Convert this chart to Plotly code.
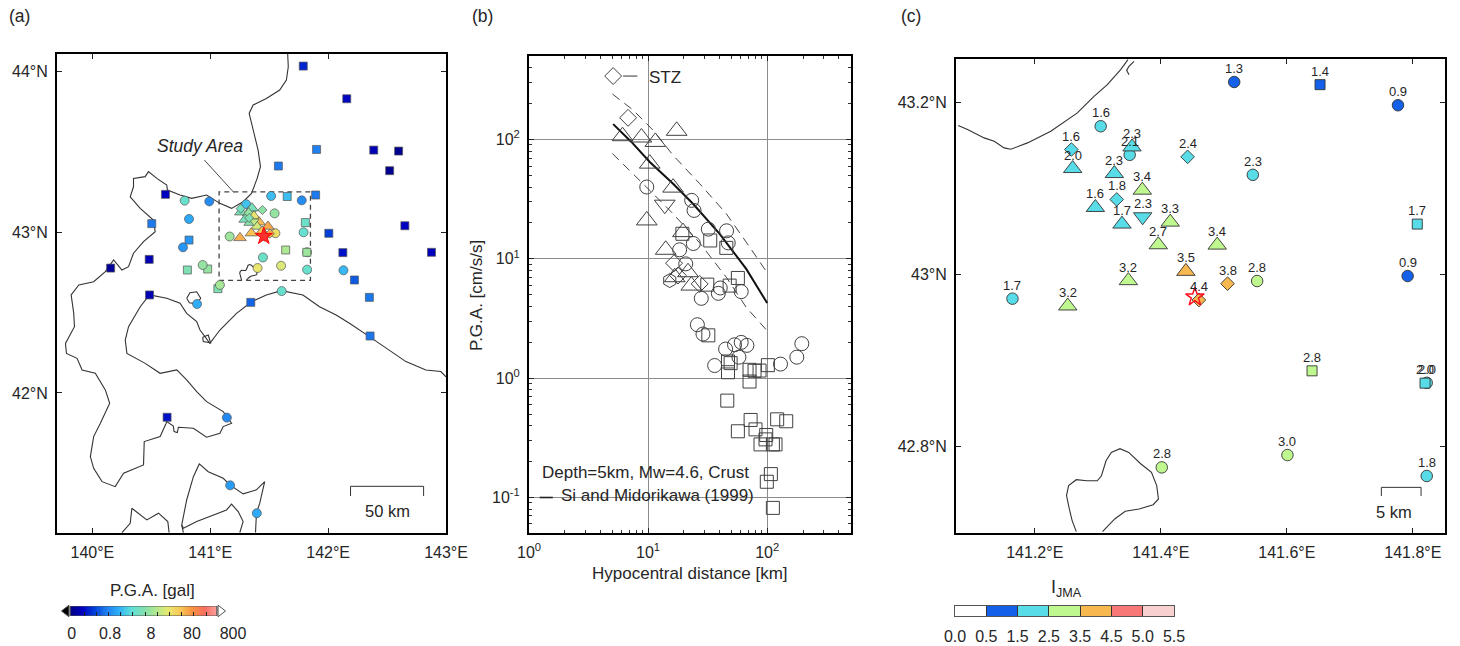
import numpy as np
import plotly.graph_objects as go

W, H = 1460, 646
FONT = "Liberation Sans"
INK = "#262626"

# ---------- Coastlines (lon, lat) ----------
coast_lon = [141.657,141.662,141.646,141.589,141.476,141.364,141.330,141.364,141.406,141.426,141.398,141.350,141.279,141.181,141.082,140.969,140.843,140.744,140.637,140.631,140.547,140.476,140.448,140.349,140.349,140.321,140.406,140.518,140.533,140.434,140.349,140.307,140.251,140.180,140.110,140.011,139.885,139.820,139.842,139.848,139.772,139.780,139.870,139.913,140.025,140.110,140.147,140.068,140.011,139.983,140.011,140.082,140.194,140.265,140.434,140.440,140.575,140.626,140.631,140.687,140.693,140.721,140.730,140.857,140.969,141.082,141.110,141.181,141.110,140.969,140.885,140.800,140.716,140.575,140.448,140.293,140.279,140.307,140.406,140.485,140.631,140.744,140.800,140.885,140.913,140.997,141.082,141.223,141.350,141.476,141.603,141.786,141.927,142.068,142.181,142.350,142.519,142.660,142.829,142.956,143.0]
coast_lat = [44.106,44.027,43.944,43.882,43.830,43.789,43.737,43.633,43.509,43.406,43.333,43.240,43.188,43.147,43.178,43.230,43.209,43.230,43.261,43.292,43.333,43.375,43.344,43.333,43.281,43.219,43.147,43.074,43.002,42.940,42.868,42.785,42.764,42.826,42.754,42.691,42.671,42.609,42.495,42.412,42.308,42.246,42.215,42.143,42.122,42.019,41.936,41.812,41.729,41.605,41.532,41.449,41.418,41.501,41.553,41.698,41.729,41.812,41.822,41.795,41.760,41.754,41.787,41.781,41.725,41.750,41.791,41.812,41.884,41.946,42.008,42.081,42.143,42.122,42.184,42.246,42.329,42.412,42.536,42.609,42.588,42.557,42.495,42.443,42.391,42.308,42.391,42.495,42.567,42.609,42.636,42.609,42.536,42.484,42.433,42.350,42.267,42.195,42.143,42.133,42.10]
muroran_lon = [140.936,140.983,141.003,140.941,140.936]
muroran_lat = [42.346,42.360,42.312,42.319,42.346]
toya_lon = [140.800,140.828,140.885,140.919,140.885,140.823,140.800]
toya_lat = [42.588,42.623,42.629,42.588,42.553,42.561,42.588]
pen1_lon = [140.772,140.758,140.800,140.857,140.907,140.983,141.110,141.167,141.279,141.392,141.462,141.420,141.392,141.384]
pen1_lat = [41.133,41.180,41.335,41.480,41.559,41.511,41.470,41.429,41.373,41.398,41.449,41.315,41.253,41.133]
pen2_lon = [140.758,140.772,140.885,141.026,141.138,141.181,141.237,141.279,141.251]
pen2_lat = [41.180,41.160,41.201,41.242,41.273,41.309,41.263,41.201,41.133]
pen3_lon = [140.251,140.321,140.335,140.462,140.561,140.640,140.651]
pen3_lat = [41.133,41.190,41.284,41.211,41.253,41.201,41.133]
lake_lon = [141.2659,141.2593,141.2548,141.2504,141.2537,141.2659,141.2826,141.2992,141.3058,141.3131,141.3214,141.3352,141.3491,141.3685,141.3852,141.3935,141.3963,141.3879,141.3657,141.3436,141.3269,141.3075]
lake_lat = [42.7016,42.7144,42.7279,42.7434,42.7550,42.7619,42.7607,42.7607,42.7665,42.7839,42.7936,42.7979,42.7936,42.7801,42.7704,42.7550,42.7395,42.7329,42.7279,42.7252,42.7163,42.7016]
c_coast_lon = [141.0785,141.0933,141.1197,141.1356,141.1514,141.162,141.1884,141.2254,141.2676,141.294,141.3152,141.3363,141.3479]
c_coast_lat = [43.1731,43.1684,43.1588,43.1549,43.1472,43.1456,43.1530,43.1665,43.1878,43.2071,43.2206,43.2380,43.2496]
c_hook_lon = [141.3575,141.3495,141.3458,141.3495]
c_hook_lat = [43.2477,43.2419,43.2372,43.2322]

# ---------- Panel (a) stations, values in gal ----------
a_sq_lon = [141.789,142.158,141.902,142.387,142.598,142.522,141.578,140.620,141.894,142.651,140.504,142.006,142.125,142.877,140.482,140.155,142.223,140.485,142.350,141.344,142.356,140.634,140.820,140.806,140.978,141.065]
a_sq_lat = [44.031,43.828,43.513,43.509,43.503,43.381,43.410,43.234,43.230,43.039,43.052,42.992,42.872,42.874,42.830,42.776,42.702,42.609,42.594,42.563,42.354,41.849,42.950,42.764,42.770,42.648]
a_sq_pga = [0.25,0.18,0.67,0.15,0.10,0.10,0.62,0.17,0.62,0.17,0.62,0.33,0.20,0.16,0.15,0.11,0.45,0.15,0.60,0.50,0.60,0.20,0.9,5,7,5]
a_ci_lon = [140.783,140.992,140.820,140.769,140.936,141.082,140.888,141.606,141.141,141.169,141.395,142.130,141.447]
a_ci_lat = [43.195,43.190,43.081,42.905,42.795,42.671,42.553,42.633,41.847,41.426,41.253,42.762,42.842]
a_ci_pga = [3.2,0.8,1.2,0.9,7,9,1.3,3.2,0.75,1.0,1.2,1.5,3.5]

# ---------- Panel (c) stations: JMA intensity and PGA (gal) shown in panel (a) ----------
ci_lon = [141.5165,141.7764,141.3046,141.3506,141.5460,141.7917,141.5529,141.1646,141.8220,141.6010,141.4015,141.8220]
ci_lat = [43.2237,43.1967,43.1723,43.1391,43.1159,42.9984,42.9926,42.9721,42.8744,42.7905,42.7762,42.7662]
ci_jma = [1.3,0.9,1.6,2.1,2.3,0.9,2.8,1.7,2.0,3.0,2.8,1.8]
ci_pga = [1.6,0.8,1.7,6,7,3,25,8,8,18,22,3.2]
sq_lon = [141.6527,141.8070,141.6400,141.8193]
sq_lat = [43.2206,43.0587,42.8883,42.8740]
sq_jma = [1.4,1.7,2.8,2.0]
sq_pga = [1.6,3.5,10,8]
tr_lon = [141.3543,141.2602,141.3263,141.3707,141.2962,141.4150,141.3384,141.3960,141.4895,141.4398,141.3485,141.2523]
tr_lat = [43.1483,43.1232,43.1174,43.0981,43.0780,43.0610,43.0587,43.0347,43.0343,43.0038,42.9930,42.9636]
tr_jma = [2.3,2.0,2.3,3.4,1.6,3.3,1.7,2.7,3.4,3.5,3.2,3.2]
tr_pga = [4.5,5,7,22,4.5,45,6,16,60,42,45,55]
td_lon = [141.3712]
td_lat = [43.0672]
td_jma = [2.3]
td_pga = [12]
di_lon = [141.2581,141.4425,141.3300,141.5059,141.4605]
di_lat = [43.1453,43.1368,43.0873,42.9895,42.9706]
di_jma = [1.6,2.4,1.8,3.8,4.4]
di_pga = [4,6.5,5,55,70]
star_lon = [141.4541]
star_lat = [42.9741]

# ---------- Panel (b): log10 distance, log10 PGA ----------
b_tr_x = [.785,.944,1.061,1.240,1.014,1.210,.989,1.293,1.148,1.335,1.224,1.363]
b_tr_y = [2.028,2.017,1.980,2.073,1.798,1.597,1.322,1.224,1.076,.888,.846,.776]
b_td_x = [1.140]
b_td_y = [1.454]
b_ci_x = [.989,1.366,1.386,1.506,1.659,1.673,1.380,1.265,1.316,1.447,1.590,1.606,1.782,1.414,1.461,1.651,1.726,1.782,1.830,1.763,1.559,2.112,2.249,2.291]
b_ci_y = [1.602,1.490,1.406,1.249,1.235,1.134,1.129,1.076,.958,.669,.711,.756,.725,.448,.370,.244,.280,.300,.275,.176,.106,.118,.176,.289]
b_sq_x = [1.288,1.522,1.657,1.754,1.685,1.497,1.506,1.671,1.693,1.671,1.852,1.894,1.936,1.852,2.006,1.665,1.861,2.084,2.160,1.754,1.902,1.992,1.986,1.944,2.048,2.070,2.031,1.997,2.048]
b_sq_y = [1.210,1.154,1.092,.840,.776,.784,.359,.140,.126,.050,.070,.062,.064,-.028,.109,-.188,-.350,-.345,-.361,-.445,-.429,-.476,-.513,-.555,-.555,-.555,-.804,-.868,-1.087]
b_di_x = [.7066,.832,1.218,1.251,1.433]
b_di_y = [2.532,2.182,.964,.860,.790]
b_he_x = [1.182]
b_he_y = [.818]
gmpe_x = [.707,.860,1.014,1.210,1.377,1.601,1.824,2.000]
gmpe_y = [2.129,1.980,1.812,1.630,1.462,1.210,.916,.630]
gmpe_hi_x = [.701,.874,1.042,1.210,1.433,1.657,1.824,1.992]
gmpe_hi_y = [2.381,2.247,2.078,1.868,1.630,1.378,1.140,.896]
gmpe_lo_x = [.701,.874,1.042,1.210,1.433,1.657,1.824,1.992]
gmpe_lo_y = [1.882,1.714,1.546,1.378,1.134,.846,.594,.406]

# ---------- Colour scales ----------
pga_colors = ["#000080","#0000c0","#0040d8","#2080f0","#30b0f8","#60e0d8","#80e0b0","#b0e890","#e8e870","#f8c858","#f89040","#f87060","#ffa0a0"]
PGA_MIN, PGA_MAX = -1.07, 2.51
pga_scale = [[i / 12, c] for i, c in enumerate(pga_colors)]
jma_edges = [0.0, 0.5, 1.5, 2.5, 3.5, 4.5, 5.0, 5.5]
jma_labels = ["0.0", "0.5", "1.5", "2.5", "3.5", "4.5", "5.0", "5.5"]
jma_colors = ["#ffffff", "#1560e8", "#58dce8", "#c0f890", "#f8b850", "#f87878", "#f8d0d0"]
pga_ticks = ["0", "0.8", "8", "80", "800"]


def xdom(a, b):
    return [a / W, b / W]


def ydom(top, bot):
    return [1 - bot / H, 1 - top / H]


def jma_color(v):
    for i in range(len(jma_colors)):
        if jma_edges[i] <= v < jma_edges[i + 1]:
            return jma_colors[i]
    return jma_colors[-1]


fig = go.Figure()

coast_style = dict(color="#333333", width=1.1)


def line(x, y, ax, style=coast_style):
    fig.add_trace(go.Scatter(x=x, y=y, mode="lines", line=style, xaxis=ax[0], yaxis=ax[1], hoverinfo="skip"))


A = ("x", "y")
B = ("x2", "y2")
C = ("x3", "y3")
for lo, la in [(coast_lon, coast_lat), (muroran_lon, muroran_lat), (toya_lon, toya_lat), (pen1_lon, pen1_lat),
               (pen2_lon, pen2_lat), (pen3_lon, pen3_lat), (lake_lon, lake_lat)]:
    line(lo, la, A)

# Study-area box and its leader, scale bar
box_lon = [141.075, 141.85, 141.85, 141.075, 141.075]
box_lat = [42.70, 42.70, 43.25, 43.25, 42.70]
line(box_lon, box_lat, A, dict(color="#444444", width=1.3, dash="5px,4px"))
line([140.95, 141.20], [43.447, 43.246], A, dict(color="#333333", width=0.9))
line([142.19, 142.19, 142.81, 142.81], [41.36, 41.42, 41.42, 41.36], A, dict(color="#333333", width=1))


def amark(lo, la, pga, sym, size):
    fig.add_trace(go.Scatter(
        x=lo, y=la, mode="markers", xaxis="x", yaxis="y", hoverinfo="skip",
        marker=dict(symbol=sym, size=size, color=np.log10(pga), cmin=PGA_MIN, cmax=PGA_MAX,
                    colorscale=pga_scale, line=dict(color="#555555", width=0.7))))


amark(a_sq_lon, a_sq_lat, a_sq_pga, "square", 8)
amark(a_ci_lon, a_ci_lat, a_ci_pga, "circle", 9)
amark(ci_lon, ci_lat, ci_pga, "circle", 9)
amark(sq_lon, sq_lat, sq_pga, "square", 8)
amark(tr_lon, tr_lat, tr_pga, "triangle-up", 11)
amark(td_lon, td_lat, td_pga, "triangle-down", 9)
amark(di_lon, di_lat, di_pga, "diamond", 7)
fig.add_trace(go.Scatter(x=star_lon, y=star_lat, mode="markers", xaxis="x", yaxis="y", hoverinfo="skip",
                         marker=dict(symbol="star", size=13, color="#ff3030", line=dict(color="#ff0000", width=1))))

# Panel (b)
for gy, gx in [(gmpe_hi_y, gmpe_hi_x), (gmpe_lo_y, gmpe_lo_x)]:
    line(10 ** np.array(gx), 10 ** np.array(gy), B, dict(color="#444444", width=1, dash="9px,6px"))
line(10 ** np.array(gmpe_x), 10 ** np.array(gmpe_y), B, dict(color="#111111", width=2))


def bmark(x, y, sym, size):
    fig.add_trace(go.Scatter(x=10 ** np.array(x), y=10 ** np.array(y), mode="markers", xaxis="x2", yaxis="y2",
                             hoverinfo="skip", cliponaxis=False,
                             marker=dict(symbol=sym, size=size, color="rgba(0,0,0,0)",
                                         line=dict(color="#404040", width=1))))


bmark(b_tr_x, b_tr_y, "triangle-up", 18)
bmark(b_td_x, b_td_y, "triangle-down", 18)
bmark(b_ci_x, b_ci_y, "circle", 14)
bmark(b_sq_x, b_sq_y, "square", 13)
bmark(b_di_x, b_di_y, "diamond", 13)
bmark(b_he_x, b_he_y, "hexagon", 14)
line([10 ** .79, 10 ** .91], [10 ** 2.532, 10 ** 2.532], B, dict(color="#333333", width=1))
line([10 ** .09, 10 ** .20], [10 ** -1, 10 ** -1], B, dict(color="#222222", width=1.6))

# Panel (c)
for lo, la in [(c_coast_lon, c_coast_lat), (c_hook_lon, c_hook_lat), (lake_lon, lake_lat)]:
    line(lo, la, C)
line([141.75, 141.75, 141.813, 141.813], [42.743, 42.753, 42.753, 42.743], C, dict(color="#333333", width=1))

annotations = []


def cmark(lo, la, jma, sym, size):
    fig.add_trace(go.Scatter(
        x=lo, y=la, mode="markers", xaxis="x3", yaxis="y3", hoverinfo="skip",
        marker=dict(symbol=sym, size=size, color=[jma_color(v) for v in jma],
                    line=dict(color="#333333", width=0.9))))
    for a, b, v in zip(lo, la, jma):
        annotations.append(dict(x=a, y=b, xref="x3", yref="y3", text=f"{v:.1f}", showarrow=False, yshift=13.5,
                                font=dict(family=FONT, size=13, color=INK)))


cmark(ci_lon, ci_lat, ci_jma, "circle", 11.5)
cmark(sq_lon, sq_lat, sq_jma, "square", 10)
cmark(tr_lon, tr_lat, tr_jma, "triangle-up", 16)
cmark(td_lon, td_lat, td_jma, "triangle-down", 16)
cmark(di_lon, di_lat, di_jma, "diamond", 10.5)
fig.add_trace(go.Scatter(x=star_lon, y=star_lat, mode="markers", xaxis="x3", yaxis="y3", hoverinfo="skip",
                         marker=dict(symbol="star-open", size=14, color="#ff1020", line=dict(color="#ff1020", width=1.5))))

# Colour bar (a)
cb_edges = np.linspace(PGA_MIN, PGA_MAX, 121)
cb_mid = (cb_edges[:-1] + cb_edges[1:]) / 2
fig.add_trace(go.Heatmap(x=cb_edges, y=[0, 1], z=[cb_mid], zmin=PGA_MIN, zmax=PGA_MAX, colorscale=pga_scale,
                         showscale=False, xaxis="x4", yaxis="y4", hoverinfo="skip"))
line([PGA_MIN, PGA_MAX, PGA_MAX, PGA_MIN, PGA_MIN], [0, 0, 1, 1, 0], ("x4", "y4"), dict(color="#555555", width=1.2))
fig.add_trace(go.Scatter(x=[PGA_MIN - 0.09, PGA_MAX + 0.09], y=[0.5, 0.5], mode="markers", xaxis="x4", yaxis="y4",
                         hoverinfo="skip", cliponaxis=False,
                         marker=dict(symbol=["triangle-left", "triangle-right"], size=10, color=["#000000", "#ffffff"],
                                     line=dict(color="#555555", width=1))))
# Colour bar (c)
fig.add_trace(go.Heatmap(x=list(range(8)), y=[0, 1], z=[list(range(7))], zmin=0, zmax=6, showscale=False,
                         colorscale=[[i / 6, c] for i, c in enumerate(jma_colors)],
                         xaxis="x5", yaxis="y5", hoverinfo="skip"))

tf = dict(family=FONT, size=16, color=INK)
frame = dict(showline=True, linecolor="#000000", linewidth=2, mirror="ticks", ticks="inside", ticklen=5,
             tickcolor="#222222", tickwidth=1, showgrid=False, zeroline=False, tickfont=tf, ticklabelstandoff=4)

b_minor_x = [a * 10 ** d for d in range(0, 3) for a in range(2, 10)]
b_minor_x = [v for v in b_minor_x if v < 510]
b_minor_y = [a * 10.0 ** d for d in range(-2, 3) for a in range(2, 10)]
b_minor_y = [v for v in b_minor_y if 0.05 < v < 500]
b_grid = dict(showgrid=True, gridcolor="#8c8c8c", gridwidth=1)
b_x_vals = [1, 10, 100]
b_y_vals = [0.1, 1, 10, 100]

layout_axes = dict(
    xaxis=dict(frame, domain=xdom(57, 446), range=[139.70, 143.0], tickvals=[140, 141, 142, 143],
               ticktext=["140°E", "141°E", "142°E", "143°E"], anchor="y"),
    yaxis=dict(frame, domain=ydom(54, 533), range=[41.130, 44.106], tickvals=[42, 43, 44],
               ticktext=["42°N", "43°N", "44°N"], anchor="x"),
    xaxis2=dict(frame, **b_grid, domain=xdom(529, 851), type="log", range=[0, 2.704], tickvals=b_x_vals,
                ticktext=["10<sup>0</sup>", "10<sup>1</sup>", "10<sup>2</sup>"], anchor="y2",
                minor=dict(ticks="inside", ticklen=3, tickvals=b_minor_x, tickcolor="#333333", showgrid=False)),
    yaxis2=dict(frame, **b_grid, domain=ydom(56, 533), type="log", range=[-1.2975, 2.70], tickvals=b_y_vals,
                ticktext=["10<sup>-1</sup>", "10<sup>0</sup>", "10<sup>1</sup>", "10<sup>2</sup>"], anchor="x2",
                minor=dict(ticks="inside", ticklen=3, tickvals=b_minor_y, tickcolor="#333333", showgrid=False)),
    xaxis3=dict(frame, domain=xdom(956, 1445), range=[141.075, 141.851], tickvals=[141.2, 141.4, 141.6, 141.8],
                ticktext=["141.2°E", "141.4°E", "141.6°E", "141.8°E"], anchor="y3"),
    yaxis3=dict(frame, domain=ydom(59, 533), range=[42.70, 43.2504], tickvals=[42.8, 43.0, 43.2],
                ticktext=["42.8°N", "43°N", "43.2°N"], anchor="x3"),
    xaxis4=dict(domain=xdom(60, 250), range=[-1.3164, 3.318], showgrid=False, zeroline=False, showline=False,
                tickvals=[-1.03, -0.0969, 0.9031, 1.9031, 2.9031], ticktext=pga_ticks, ticks="", tickfont=tf,
                anchor="y4", ticklabelstandoff=6,
                minor=dict(ticks="inside", ticklen=4, tickcolor="#222222",
                           tickvals=[-0.731, -0.433, -0.136, 0.162, 0.459, 0.757, 1.055, 1.352, 1.65, 1.947, 2.245])),
    yaxis4=dict(domain=ydom(606, 616), range=[0, 1], visible=False, anchor="x4"),
    xaxis5=dict(domain=xdom(955, 1174), range=[0, 7], showgrid=False, zeroline=False, showline=True, mirror=True,
                linecolor="#555555", linewidth=1.2, tickvals=list(range(8)), ticktext=jma_labels, ticks="inside",
                ticklen=10, tickcolor="#333333", tickfont=tf, anchor="y5", ticklabelstandoff=6),
    yaxis5=dict(domain=ydom(606, 616), range=[0, 1], showline=True, mirror=True, linecolor="#555555", linewidth=1.2,
                showticklabels=False, ticks="", showgrid=False, zeroline=False, anchor="x5"),
)


def note(text, px, py, size=16.5, xanchor="center", angle=0):
    annotations.append(dict(text=text, x=px / W, y=1 - py / H, xref="paper", yref="paper", showarrow=False,
                            xanchor=xanchor, yanchor="middle", textangle=angle,
                            font=dict(family=FONT, size=size, color=INK)))


note("(a)", 7, 16, 17.5, "left")
note("(b)", 470, 16, 17.5, "left")
note("(c)", 899, 16, 17.5, "left")
note("<i>Study Area</i>", 200, 146, 17.5)
note("50 km", 387, 511, 16.5)
note("5 km", 1394, 512, 16.5)
note("STZ", 647, 77, 17, "left")
note("Depth=5km, Mw=4.6, Crust", 540, 472, 17, "left")
note("Si and Midorikawa (1999)", 559, 495, 17, "left")
note("P.G.A. [gal]", 152, 590, 17)
note("I<sub>JMA</sub>", 1066, 588, 18)
note("Hypocentral distance [km]", 690, 573, 17)
note("P.G.A. [cm/s/s]", 476, 296, 17, angle=-90)

fig.update_layout(
    template="none", width=W, height=H, margin=dict(l=0, r=0, t=0, b=0, pad=0), showlegend=False,
    plot_bgcolor="white", paper_bgcolor="white", annotations=annotations, font=dict(family=FONT), **layout_axes)

fig.write_html("out.html", config={"displayModeBar": False},
               post_script="document.body.style.margin='0';document.body.style.overflow='hidden';")
